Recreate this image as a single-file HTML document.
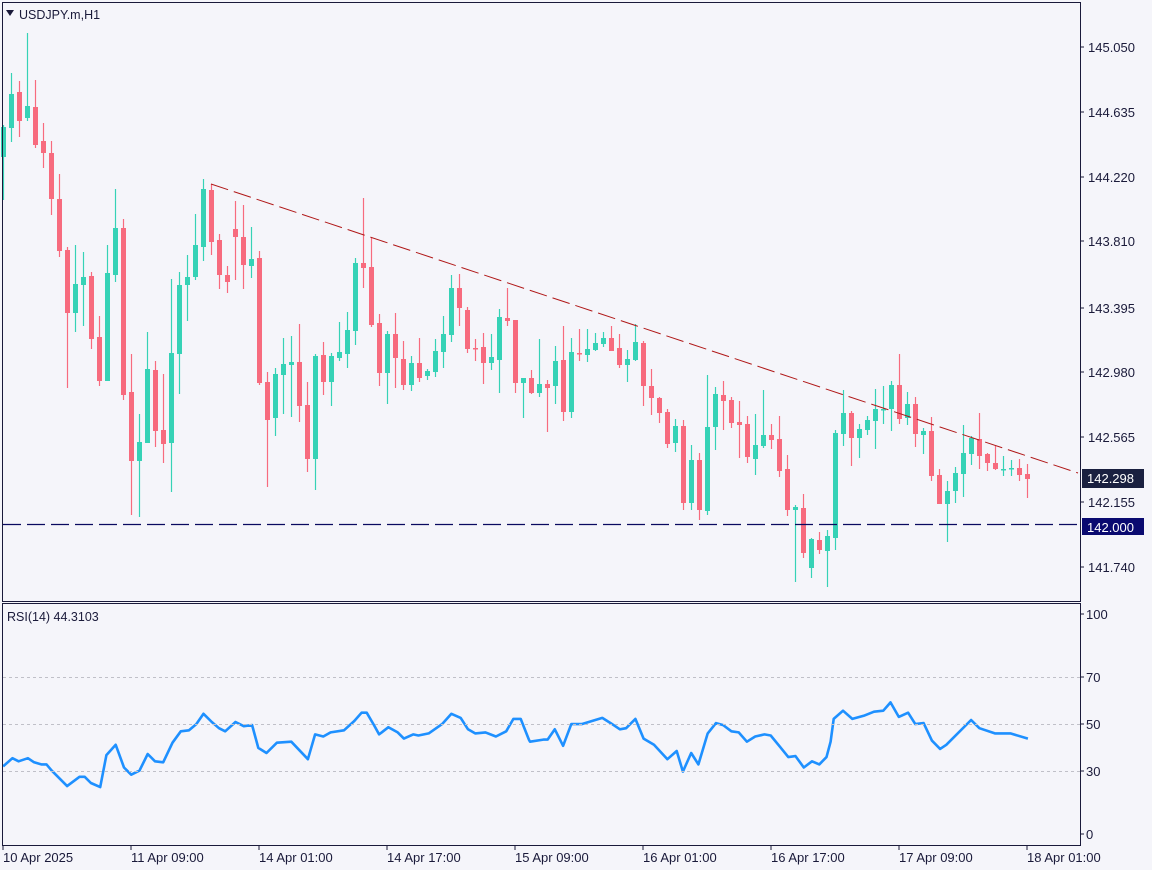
<!DOCTYPE html>
<html><head><meta charset="utf-8"><style>
body{margin:0;background:#f5f5fa;}
svg{display:block;font-family:"Liberation Sans",sans-serif;}
</style></head><body>
<svg id="s" width="1152" height="870" xmlns="http://www.w3.org/2000/svg">
<rect width="1152" height="870" fill="#f5f5fa"/>
<g id="g"></g>
<rect x="2.5" y="2.5" width="1078" height="599" fill="none" stroke="#1a1a3a" stroke-width="1"/>
<rect x="2.5" y="603.5" width="1078" height="242" fill="none" stroke="#1a1a3a" stroke-width="1"/>
<line x1="211" y1="184" x2="1078" y2="473" stroke="#b01818" stroke-width="1" stroke-dasharray="18,6"/>
<line x1="3" y1="524.5" x2="1080" y2="524.5" stroke="#0a0a60" stroke-width="1.3" stroke-dasharray="18,6"/>
<line x1="3" y1="677.5" x2="1080" y2="677.5" stroke="#c0c0c8" stroke-dasharray="3,3"/>
<line x1="3" y1="724.5" x2="1080" y2="724.5" stroke="#c0c0c8" stroke-dasharray="3,3"/>
<line x1="3" y1="771.5" x2="1080" y2="771.5" stroke="#c0c0c8" stroke-dasharray="3,3"/>
<polygon points="6,10 14,10 10,16" fill="#1a1a3a"/>
<text x="19" y="19" font-size="12.5" fill="#1a1a3a">USDJPY.m,H1</text>
<text x="7" y="621" font-size="12.5" fill="#1a1a3a">RSI(14) 44.3103</text>
<g font-size="13" fill="#1a1a3a" id="ax"></g>
<rect x="1082" y="469" width="62" height="19" fill="#1a2040"/>
<text x="1087" y="483" font-size="13" fill="#fff">142.298</text>
<rect x="1082" y="518" width="62" height="17" fill="#0a0a70"/>
<text x="1087" y="532" font-size="13" fill="#fff">142.000</text>
</svg>
<script>
var C=[
['g',127,157,125,200],['g',94,128,73,142],['r',92,121,81,137],['g',106,118,33,121],['r',107,145,80,148],
['r',141,153,123,168],['r',153,199,141,215],['r',199,251,174,257],['r',250,313,247,388],['g',284,313,245,332],
['g',277,285,252,326],['r',276,339,272,349],['r',337,381,316,386],['g',273,381,245,381],['g',228,275,189,282],
['r',228,395,219,400],['r',392,461,354,515],['g',442,461,414,517],['g',369,443,332,443],['r',370,431,361,447],
['r',430,444,374,463],['g',353,443,279,492],['g',285,354,272,394],['g',277,285,255,321],['g',245,277,214,280],
['g',189,247,179,261],['r',190,242,184,255],['r',240,275,234,289],['r',275,282,266,293],['r',229,237,201,280],
['r',237,265,205,289],['g',259,266,227,278],['r',258,383,251,385],['r',382,420,372,487],['g',374,418,368,436],
['g',364,375,338,414],['g',362,365,336,417],['r',362,406,324,422],['r',405,459,382,472],['g',356,459,354,490],
['r',355,382,342,395],['g',356,382,353,406],['g',352,358,322,361],['g',330,354,312,368],['g',263,331,258,345],
['r',263,268,198,288],['r',267,325,238,327],['r',323,373,314,386],['g',334,373,331,404],['r',334,358,313,388],
['r',359,385,341,390],['g',363,385,356,391],['r',363,378,338,382],['g',371,376,369,380],['g',351,372,339,377],
['g',334,352,316,368],['g',288,335,275,342],['r',288,308,274,326],['r',310,349,307,353],['r',348,349,339,361],
['r',347,363,333,384],['g',357,363,334,370],['g',317,360,309,393],['r',318,321,288,326],['r',320,383,320,393],
['g',378,383,378,418],['r',378,393,370,394],['g',384,393,339,397],['r',384,388,380,432],['g',361,386,346,404],
['r',360,412,326,421],['g',352,412,338,418],['r',353,354,329,361],['g',349,355,329,362],['g',343,350,333,351],
['g',338,344,332,347],['r',338,351,326,351],['r',348,365,334,368],['g',359,365,350,382],['g',342,360,324,361],
['r',343,386,341,406],['r',386,398,369,415],['r',398,413,397,423],['r',412,444,409,448],['g',426,443,419,452],
['r',426,503,420,510],['g',460,503,445,510],['r',460,510,453,520],['g',427,511,375,515],['g',394,427,387,450],
['r',395,401,381,430],['r',400,423,397,428],['r',422,425,401,458],['r',424,457,416,463],['g',445,459,414,475],
['g',435,446,390,448],['r',435,440,424,449],['r',439,471,416,477],['r',469,510,455,516],['g',507,510,505,582],
['r',508,553,494,558],['g',539,568,538,578],['r',540,550,532,554],['g',536,551,530,587],['g',433,538,430,550],
['g',413,434,390,446],['r',413,438,411,466],['g',429,438,424,458],['g',420,430,416,435],['g',409,421,389,449],
['g',409,410,386,424],['g',385,409,381,431],['r',385,419,354,424],['g',404,418,392,425],['r',404,434,397,447],
['g',431,435,428,454],['r',431,476,417,481],['r',475,504,469,504],['g',491,504,481,542],['g',473,491,467,503],
['g',453,474,425,497],['g',438,454,436,465],['r',439,456,413,469],['r',454,463,453,471],['r',463,469,446,470],
['g',469,470,456,476],['g',468,469,460,476],['r',468,475,459,481],['r',474,479,464,498]];
var h='';
C.forEach(function(c,i){var x=3.5+8*i;var col=c[0]=='g'?'#36d2b6':'#f76b7e';
h+='<line x1="'+x+'" y1="'+c[3]+'" x2="'+x+'" y2="'+c[4]+'" stroke="'+col+'" stroke-width="1.2"/>';
var bh=Math.max(c[2]-c[1],1.5);h+='<rect x="'+(x-2.5)+'" y="'+c[1]+'" width="5" height="'+bh+'" fill="'+col+'"/>';});
var A=[[3,764],[12,756],[18,759],[27,756],[33,760],[40,762],[45,762],[50,768],[65,783],[77,774],[82,774],[88,780],[97,784],[103,753],[112,743],[120,765],[127,772],[135,768],[143,752],[150,759],[158,760],[167,741],[175,730],[183,729],[190,723],[197,713],[205,721],[212,727],[218,730],[228,721],[236,725],[244,724],[250,746],[258,751],[268,741],[282,740],[298,757],[305,733],[313,735],[320,731],[333,729],[343,720],[350,712],[355,712],[362,724],[367,733],[376,726],[385,731],[391,737],[400,733],[405,734],[415,732],[428,723],[437,713],[446,717],[453,728],[460,732],[470,731],[480,735],[490,730],[497,718],[504,718],[512,738]];
var B=[[530,740],[543,738],[547,738],[554,728],[562,744],[570,723],[580,723],[600,717],[608,722],[617,728],[623,727],[632,718],[640,737],[650,743],[663,757],[672,749],[678,769],[686,751],[693,762],[702,732],[710,722],[717,724],[725,730],[732,731],[740,740],[748,735],[757,733],[763,734],[772,745],[780,755],[787,754],[795,765],[803,759],[810,762],[817,755],[821,740],[824,718],[833,710],[842,718],[853,715],[863,711],[872,710],[879,702],[887,716],[896,712],[903,723],[911,722],[919,739],[927,747],[933,743],[957,719],[965,727],[980,732],[995,732],[1012,737]];
var k=3/2.904,p=[];
A.forEach(function(a){p.push((a[0]*k).toFixed(1)+','+(690+(a[1]-690)*k).toFixed(1));});
B.forEach(function(a){p.push((530+(a[0]-530)*k).toFixed(1)+','+(690+(a[1]-690)*k).toFixed(1));});
h+='<polyline points="'+p.join(' ')+'" fill="none" stroke="#1e90ff" stroke-width="2.6" stroke-linejoin="round"/>';
document.getElementById('g').innerHTML=h;
var ax='';
[['145.050',47],['144.635',112],['144.220',177],['143.810',241],['143.395',308],['142.980',372],['142.565',437],['142.155',502],['141.740',567]].forEach(function(t){
ax+='<line x1="1080" y1="'+t[1]+'" x2="1084" y2="'+t[1]+'" stroke="#1a1a3a"/><text x="1088" y="'+(t[1]+5)+'">'+t[0]+'</text>';});
[['100',614],['70',677],['50',724],['30',771],['0',834]].forEach(function(t){
ax+='<line x1="1080" y1="'+t[1]+'" x2="1084" y2="'+t[1]+'" stroke="#1a1a3a"/><text x="1086" y="'+(t[1]+5)+'">'+t[0]+'</text>';});
[['10 Apr 2025',3],['11 Apr 09:00',131],['14 Apr 01:00',259],['14 Apr 17:00',387],['15 Apr 09:00',515],['16 Apr 01:00',643],['16 Apr 17:00',771],['17 Apr 09:00',899],['18 Apr 01:00',1027]].forEach(function(t){
ax+='<line x1="'+t[1]+'" y1="846" x2="'+t[1]+'" y2="850" stroke="#1a1a3a"/><text x="'+t[1]+'" y="862">'+t[0]+'</text>';});
document.getElementById('ax').innerHTML=ax;
</script>
</body></html>
